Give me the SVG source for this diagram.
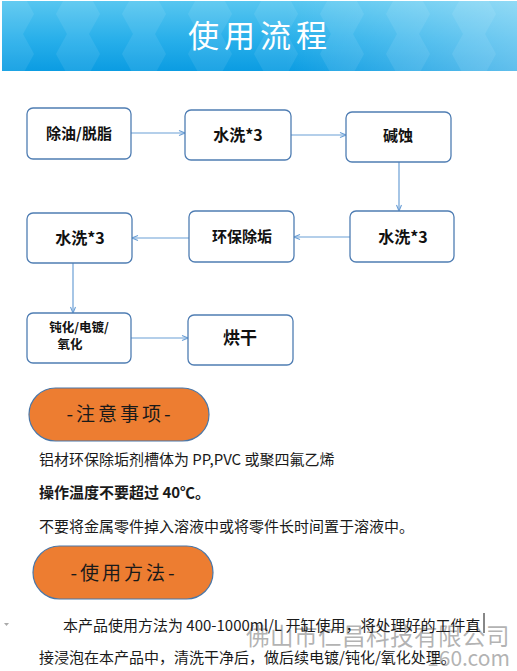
<svg xmlns="http://www.w3.org/2000/svg" width="517" height="671" viewBox="0 0 517 671">
<defs>
<linearGradient id="hdr" x1="0" y1="0" x2="0" y2="1">
<stop offset="0" stop-color="#57c6f0"/>
<stop offset="0.55" stop-color="#28afea"/>
<stop offset="1" stop-color="#0b9ce2"/>
</linearGradient>
<linearGradient id="hdrR" x1="0" y1="0" x2="1" y2="0">
<stop offset="0.55" stop-color="#ffffff" stop-opacity="0"/>
<stop offset="1" stop-color="#ffffff" stop-opacity="0.35"/>
</linearGradient>
<pattern id="hex" width="66" height="40" patternUnits="userSpaceOnUse" x="-10" y="-6">
<polygon points="0,20 11,0 33,0 44,20 33,40 11,40" fill="#ffffff" fill-opacity="0.08"/>
</pattern>
<marker id="arr" markerWidth="8" markerHeight="8" refX="7" refY="4" orient="auto" markerUnits="userSpaceOnUse">
<path d="M1,1.5 L7,4 L1,6.5" fill="none" stroke="#6b9fd6" stroke-width="1.1"/>
</marker>
<style>
.box{fill:#ffffff;stroke:#4f7db3;stroke-width:1.3}
.bt{font-family:"Noto Sans CJK SC","Noto Sans",sans-serif;font-weight:bold;fill:#111;text-anchor:middle}
.con{stroke:#6b9fd6;stroke-width:1.2;fill:none;marker-end:url(#arr)}
.pill{fill:#ed7d31;stroke:#4a77a8;stroke-width:1.2}
.pt{font-family:"Noto Sans CJK SC","Noto Sans",sans-serif;font-size:19px;fill:#1a1a1a;text-anchor:middle;letter-spacing:3px}
.para{font-family:"Noto Sans CJK SC","Noto Sans",sans-serif;font-size:15px;fill:#1a1a1a}
</style>
</defs>
<rect width="517" height="671" fill="#ffffff"/>
<g id="header">
<rect x="2" y="1" width="515" height="70" fill="url(#hdr)"/>
<rect x="2" y="1" width="515" height="70" fill="url(#hex)"/>
<rect x="2" y="1" width="515" height="70" fill="url(#hdrR)"/>
<text x="260" y="47" font-family="'Noto Sans CJK SC',sans-serif" font-size="31" fill="#ffffff" text-anchor="middle" letter-spacing="5">使用流程</text>
</g>
<g id="connectors">
<line class="con" x1="131" y1="133" x2="185" y2="133"/>
<line class="con" x1="291" y1="135" x2="346" y2="135"/>
<line class="con" x1="399" y1="162" x2="399" y2="211"/>
<line class="con" x1="350" y1="237" x2="294" y2="237"/>
<line class="con" x1="189" y1="238" x2="132" y2="238"/>
<line class="con" x1="73" y1="263" x2="73" y2="313"/>
<line class="con" x1="131" y1="338" x2="188" y2="338"/>
</g>
<g id="n1"><rect class="box" x="27" y="108" width="104" height="51" rx="6"/><text class="bt" x="79" y="139" font-size="15">除油/脱脂</text></g>
<g id="n2"><rect class="box" x="185" y="110" width="106" height="50" rx="6"/><text class="bt" x="238" y="141" font-size="16">水洗*3</text></g>
<g id="n3"><rect class="box" x="346" y="112" width="105" height="50" rx="6"/><text class="bt" x="398" y="141" font-size="15">碱蚀</text></g>
<g id="n4"><rect class="box" x="350" y="211" width="104" height="51" rx="6"/><text class="bt" x="403" y="243" font-size="16">水洗*3</text></g>
<g id="n5"><rect class="box" x="189" y="211" width="105" height="51" rx="6"/><text class="bt" x="242" y="242" font-size="15">环保除垢</text></g>
<g id="n6"><rect class="box" x="27" y="213" width="105" height="50" rx="6"/><text class="bt" x="80" y="244" font-size="16">水洗*3</text></g>
<g id="n7"><rect class="box" x="27" y="313" width="104" height="50" rx="6"/><text class="bt" x="79" y="332" font-size="12.5">钝化/电镀/</text><text class="bt" x="70" y="349" font-size="12.5">氧化</text></g>
<g id="n8"><rect class="box" x="188" y="315" width="105" height="50" rx="6"/><text class="bt" x="240" y="344" font-size="17">烘干</text></g>
<g id="p1"><rect class="pill" x="29" y="388" width="180" height="53" rx="26.5"/><text class="pt" x="120" y="421">-注意事项-</text></g>
<text class="para" x="39" y="465">铝材环保除垢剂槽体为 PP,PVC 或聚四氟乙烯</text>
<text class="para" x="39" y="498" font-weight="bold">操作温度不要超过 40℃。</text>
<text class="para" x="39" y="532">不要将金属零件掉入溶液中或将零件长时间置于溶液中。</text>
<g id="p2"><rect class="pill" x="33" y="546" width="180" height="53" rx="26.5"/><text class="pt" x="124" y="580">-使用方法-</text></g>
<g id="watermark" font-family="'Noto Sans CJK SC',sans-serif" fill="#9a9a9a" fill-opacity="0.75" text-anchor="end">
<text x="510" y="645" font-size="23.5" letter-spacing="0.5">佛山市仁昌科技有限公司</text>
<text x="510" y="666" font-size="21">160.com</text>
</g>
<polygon points="4,623 9,623 6.5,626" fill="#aaaaaa"/>
<text class="para" x="63" y="631">本产品使用方法为 400-1000ml/L 开缸使用，将处理好的工件直</text>
<line x1="484" y1="613" x2="484" y2="633" stroke="#111" stroke-width="1"/>
<text class="para" x="39" y="663">接浸泡在本产品中，清洗干净后，做后续电镀/钝化/氧化处理。</text>
</svg>
